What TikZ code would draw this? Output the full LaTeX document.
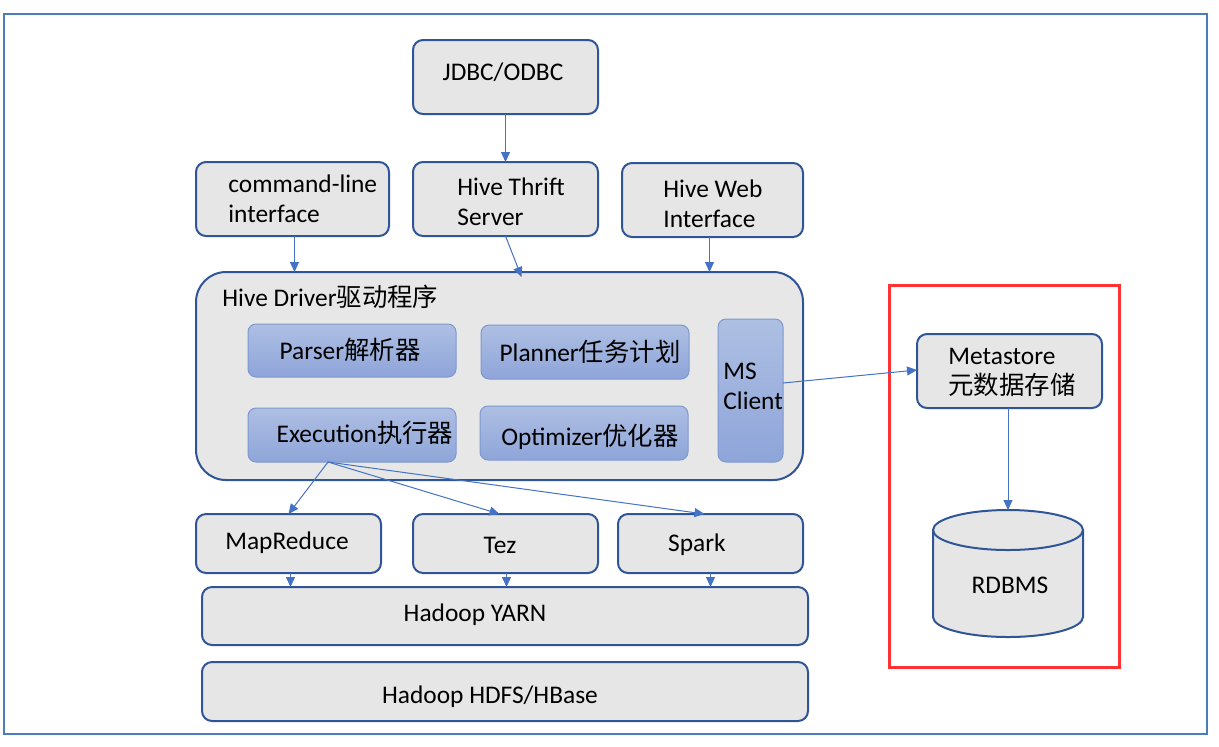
\documentclass[tikz,border=0pt]{standalone}
\usepackage{fontspec}
\setmainfont{Carlito}
\newfontfamily\cjk{Noto Sans CJK SC}
\usetikzlibrary{arrows.meta}
\definecolor{boxgray}{HTML}{E7E6E6}
\definecolor{boxline}{HTML}{2F5597}
\definecolor{innertop}{HTML}{AEBFE3}
\definecolor{innerbot}{HTML}{8EA5D9}
\definecolor{innerline}{HTML}{7D98D0}
\definecolor{arrblue}{HTML}{4472C4}
\definecolor{framblue}{HTML}{4A7EBB}
\definecolor{framred}{HTML}{FF3333}
\tikzset{
  box/.style={draw=boxline, line width=1pt, fill=boxgray, rounded corners=5pt, inner sep=0pt, outer sep=0pt},
  inbox/.style={draw=innerline, line width=0.5pt, top color=innertop, bottom color=innerbot, rounded corners=4pt, inner sep=0pt, outer sep=0pt},
  lbl/.style={inner sep=0pt, align=left},
  arr/.style={draw=arrblue, line width=0.5pt, -{Triangle[length=5pt,width=4.5pt]}},
}
\begin{document}
\begin{tikzpicture}[x=0.5pt,y=-0.5pt, font=\fontsize{12.7}{15}\selectfont]
\useasboundingbox (0,0) rectangle (1219,746);
% frames
\draw[framblue, line width=1pt] (4,14) rectangle (1207,734);
\draw[framred, line width=1.5pt] (889,285) rectangle (1119,667);

% top boxes
\node[box, minimum width=92.5pt, minimum height=37pt] (jdbc) at (505.5,77) {};
\node[lbl] (jdbct) at (503,72) {JDBC/ODBC};
\node[box, minimum width=96.5pt, minimum height=37pt] (cmd) at (292.5,199) {};
\node[lbl, anchor=west] (cmdt) at (228,199) {command-line\\interface};
\node[box, minimum width=92.5pt, minimum height=37pt] (thrift) at (505.5,199) {};
\node[lbl, anchor=west] (thriftt) at (457,202) {Hive Thrift\\Server};
\node[box, minimum width=90.5pt, minimum height=37pt] (web) at (712.5,200) {};
\node[lbl, anchor=west] (webt) at (663,204) {Hive Web\\Interface};

% driver
\node[box, rounded corners=15pt, fill=boxgray!95!white, minimum width=303.5pt, minimum height=104pt] (driver) at (499.5,376) {};
\node[lbl, anchor=west] (drivert) at (222,297) {Hive Driver{\cjk 驱动程序}};
\node[inbox, minimum width=104pt, minimum height=26.5pt] (parser) at (352,350.5) {};
\node[lbl] (parsert) at (350,350) {Parser{\cjk 解析器}};
\node[inbox, minimum width=104pt, minimum height=27pt] (planner) at (585,352) {};
\node[lbl] (plannert) at (590,352) {Planner{\cjk 任务计划}};
\node[inbox, minimum width=104pt, minimum height=27pt] (exec) at (352,435) {};
\node[lbl] (exect) at (365,433) {Execution{\cjk 执行器}};
\node[inbox, minimum width=104pt, minimum height=27pt] (optim) at (584,433) {};
\node[lbl] (optimt) at (590,437) {Optimizer{\cjk 优化器}};
\node[inbox, minimum width=32.5pt, minimum height=71.5pt] (ms) at (750.5,390.5) {};
\node[lbl, anchor=west] (mst) at (723,386) {MS\\Client};

% metastore
\node[box, minimum width=92.5pt, minimum height=37pt] (meta) at (1009.5,371) {};
\node[lbl, anchor=west] (metat) at (948,372) {Metastore\\{\cjk 元数据存储}};

% rdbms cylinder
\node[inner sep=0pt, outer sep=0pt, minimum width=75pt, minimum height=63.5pt] (rdbms) at (1008,573.5) {};
\fill[boxgray] (933,530) -- (933,617) arc[start angle=180, end angle=360, x radius=37.5pt, y radius=10pt] -- (1083,530) -- cycle;
\fill[boxgray] (1008,530) ellipse[x radius=37.5pt, y radius=10pt];
\draw[boxline, line width=1pt] (933,530) -- (933,617) arc[start angle=180, end angle=360, x radius=37.5pt, y radius=10pt] -- (1083,530);
\draw[boxline, line width=1pt] (1008,530) ellipse[x radius=37.5pt, y radius=10pt];
\node[lbl] (rdbmst) at (1010,585) {RDBMS};

% engines
\node[box, minimum width=92.5pt, minimum height=29.5pt] (mr) at (288.5,543.5) {};
\node[lbl] (mrt) at (287,543) {MapReduce};
\node[box, minimum width=92.5pt, minimum height=29.5pt] (tez) at (505.5,543.5) {};
\node[lbl] (tezt) at (500,545) {Tez};
\node[box, minimum width=92.5pt, minimum height=29.5pt] (spark) at (710.5,543.5) {};
\node[lbl] (sparkt) at (697,545) {Spark};

% hadoop layers
\node[box, minimum width=303pt, minimum height=29pt] (yarn) at (505,616) {};
\node[lbl] (yarnt) at (475,615) {Hadoop YARN};
\node[box, minimum width=303pt, minimum height=29.5pt] (hdfs) at (505,691.5) {};
\node[lbl] (hdfst) at (490,697) {Hadoop HDFS/HBase};

% connectors
\draw[arr] (jdbc.south) -- (thrift.north);
\draw[arr] ([xshift=1pt]cmd.south) -- ([xshift=1pt]cmd.south |- driver.north);
\draw[arr] (thrift.south) -- ([xshift=8pt,yshift=-2.5pt]thrift.south |- driver.north);
\draw[arr] ([xshift=-1.5pt]web.south) -- ([xshift=-1.5pt]web.south |- driver.north);
\draw[arr] ([yshift=3.75pt]ms.east) -- ([yshift=0.5pt]meta.west);
\draw[arr] ([xshift=-0.75pt]meta.south) -- (rdbms.north);
\draw[arr] ([xshift=-12pt]exec.south) -- (mr.north);
\draw[arr] ([xshift=-12pt]exec.south) -- ([xshift=-3pt]tez.north);
\draw[arr] ([xshift=-12pt]exec.south) -- ([xshift=-3pt]spark.north);
\draw[arr] ([xshift=1pt]mr.south) -- ([xshift=1pt]mr.south |- yarn.north);
\draw[arr] ([xshift=0.5pt]tez.south) -- ([xshift=0.5pt]tez.south |- yarn.north);
\draw[arr] (spark.south) -- (spark.south |- yarn.north);
\end{tikzpicture}
\end{document}
